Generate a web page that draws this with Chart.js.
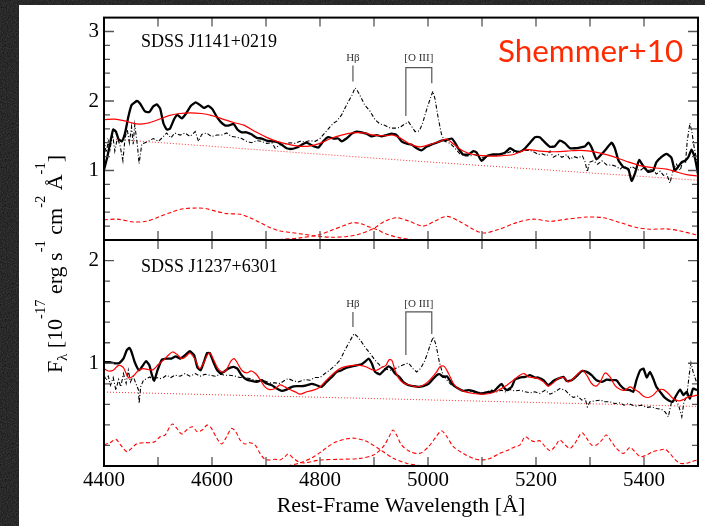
<!DOCTYPE html>
<html>
<head>
<meta charset="utf-8">
<script src="https://cdn.jsdelivr.net/npm/chart.js@4.4.1/dist/chart.umd.min.js"></script>
<style>
  html, body { margin: 0; padding: 0; }
  body {
    width: 705px; height: 526px; position: relative; overflow: hidden;
    background-color: #111;
    background-image: url("data:image/svg+xml;utf8,<svg xmlns='http://www.w3.org/2000/svg' width='160' height='160'><filter id='g'><feTurbulence type='fractalNoise' baseFrequency='0.8' numOctaves='2' stitchTiles='stitch'/><feColorMatrix type='saturate' values='0'/></filter><rect width='160' height='160' filter='url(%23g)' opacity='0.28'/></svg>");
  }
  #sheet { position: absolute; left: 19px; top: 5px; right: 0; bottom: 0; background: #fff; }
  canvas { position: absolute; left: 0; top: 0; }
</style>
</head>
<body>
<div id="sheet"></div>
<canvas id="topPanel" width="705" height="526"></canvas>
<canvas id="bottomPanel" width="705" height="526"></canvas>
<script>
// rest-frame wavelength ticks (labelled) and flux ticks per panel
const waveTicks = [4400, 4600, 4800, 5000, 5200, 5400];
const topFluxTicks = [1, 2, 3];
const bottomFluxTicks = [1, 2];

// SDSS J1141+0219: [wavelength, flux]
const j1141Obs = [[4400,1.01],[4406,1.19],[4412,1.42],[4417,1.59],[4422,1.56],[4427,1.45],[4433,1.42],[4439,1.54],[4445,1.77],[4451,1.94],[4461,2.00],[4467,1.96],[4476,1.85],[4484,1.84],[4491,1.92],[4498,1.95],[4504,1.89],[4510,1.68],[4516,1.59],[4522,1.60],[4530,1.74],[4536,1.80],[4544,1.75],[4552,1.82],[4561,1.93],[4570,1.98],[4578,1.94],[4585,1.90],[4593,1.93],[4601,1.88],[4609,1.77],[4616,1.70],[4624,1.65],[4632,1.65],[4640,1.67],[4647,1.59],[4655,1.55],[4664,1.55],[4673,1.52],[4683,1.47],[4692,1.46],[4701,1.43],[4711,1.42],[4720,1.41],[4729,1.37],[4738,1.32],[4748,1.31],[4757,1.33],[4766,1.37],[4775,1.40],[4788,1.35],[4797,1.33],[4806,1.42],[4815,1.48],[4825,1.46],[4834,1.46],[4840,1.42],[4849,1.46],[4859,1.53],[4868,1.56],[4877,1.55],[4886,1.53],[4896,1.49],[4905,1.51],[4914,1.49],[4923,1.51],[4933,1.53],[4942,1.51],[4951,1.42],[4961,1.385],[4970,1.37],[4979,1.32],[4988,1.29],[4997,1.34],[5007,1.375],[5016,1.40],[5025,1.43],[5035,1.44],[5044,1.46],[5050,1.40],[5056,1.32],[5065,1.23],[5075,1.23],[5084,1.28],[5090,1.26],[5099,1.14],[5109,1.21],[5118,1.23],[5127,1.23],[5136,1.24],[5143,1.26],[5152,1.32],[5161,1.28],[5170,1.27],[5180,1.32],[5189,1.40],[5198,1.48],[5207,1.48],[5217,1.40],[5226,1.34],[5235,1.35],[5244,1.43],[5254,1.39],[5263,1.32],[5272,1.32],[5281,1.33],[5291,1.35],[5297,1.40],[5303,1.33],[5312,1.16],[5322,1.24],[5331,1.32],[5340,1.40],[5346,1.32],[5353,1.14],[5362,1.05],[5371,1.02],[5377,0.85],[5383,0.95],[5391,1.15],[5399,1.06],[5408,0.98],[5417,1.00],[5423,1.12],[5433,1.20],[5442,1.24],[5451,1.18],[5457,1.00],[5463,1.05],[5470,1.12],[5476,1.14],[5482,1.19],[5488,1.30],[5494,1.19],[5500,0.95]];
const j1141Raw = [[4400,1.45],[4404,1.26],[4408,1.42],[4411,1.30],[4416,1.52],[4420,1.28],[4425,1.47],[4430,1.35],[4435,1.14],[4439,1.47],[4443,1.59],[4447,1.40],[4451,1.63],[4454,1.38],[4457,1.66],[4462,1.35],[4465,1.10],[4470,1.38],[4476,1.40],[4482,1.42],[4491,1.46],[4501,1.42],[4510,1.49],[4516,1.54],[4524,1.47],[4531,1.54],[4541,1.51],[4550,1.54],[4559,1.49],[4569,1.56],[4575,1.42],[4581,1.52],[4590,1.54],[4599,1.49],[4609,1.51],[4618,1.51],[4627,1.54],[4636,1.49],[4646,1.48],[4655,1.46],[4664,1.42],[4673,1.40],[4683,1.43],[4692,1.42],[4701,1.39],[4711,1.40],[4717,1.32],[4726,1.37],[4735,1.38],[4744,1.40],[4754,1.39],[4763,1.42],[4772,1.41],[4781,1.43],[4791,1.42],[4800,1.46],[4809,1.54],[4819,1.63],[4825,1.68],[4831,1.71],[4840,1.80],[4849,1.94],[4859,2.08],[4865,2.19],[4869,2.15],[4874,2.08],[4883,1.94],[4893,1.85],[4902,1.73],[4911,1.67],[4920,1.65],[4930,1.61],[4939,1.61],[4948,1.62],[4957,1.67],[4964,1.70],[4970,1.63],[4976,1.56],[4984,1.57],[4990,1.68],[4998,1.89],[5004,2.03],[5009,2.14],[5013,2.03],[5019,1.75],[5025,1.52],[5031,1.42],[5041,1.39],[5050,1.32],[5059,1.24],[5069,1.21],[5078,1.21],[5087,1.23],[5096,1.19],[5106,1.19],[5115,1.23],[5124,1.21],[5133,1.23],[5143,1.24],[5152,1.27],[5161,1.26],[5170,1.27],[5180,1.29],[5189,1.29],[5198,1.26],[5204,1.23],[5211,1.24],[5220,1.21],[5226,1.28],[5232,1.19],[5241,1.23],[5248,1.19],[5257,1.23],[5263,1.16],[5270,1.20],[5278,1.18],[5286,1.21],[5291,1.12],[5295,0.98],[5299,1.12],[5306,1.14],[5314,1.09],[5322,1.14],[5331,1.08],[5340,1.08],[5348,1.06],[5356,1.02],[5363,1.07],[5371,1.00],[5377,1.06],[5385,1.02],[5393,1.00],[5400,1.04],[5408,1.00],[5416,1.02],[5423,0.95],[5430,0.99],[5436,0.93],[5442,0.95],[5448,0.82],[5454,1.00],[5460,1.09],[5467,1.00],[5472,1.14],[5477,1.12],[5480,1.42],[5485,1.68],[5489,1.54],[5493,1.33],[5498,1.14]];
const j1141Model = [[4400,1.73],[4420,1.74],[4440,1.71],[4460,1.67],[4480,1.68],[4500,1.73],[4520,1.79],[4540,1.82],[4560,1.83],[4580,1.82],[4600,1.79],[4620,1.74],[4640,1.69],[4660,1.65],[4680,1.56],[4700,1.48],[4720,1.42],[4740,1.38],[4760,1.35],[4780,1.35],[4800,1.39],[4820,1.46],[4840,1.51],[4860,1.54],[4880,1.54],[4900,1.51],[4920,1.50],[4935,1.51],[4950,1.46],[4967,1.38],[4985,1.34],[5004,1.375],[5022,1.42],[5035,1.45],[5047,1.38],[5065,1.28],[5084,1.23],[5109,1.21],[5133,1.21],[5158,1.23],[5183,1.30],[5207,1.28],[5232,1.27],[5257,1.28],[5281,1.29],[5300,1.28],[5319,1.25],[5343,1.20],[5368,1.13],[5393,1.07],[5417,1.04],[5442,1.02],[5460,0.98],[5479,0.94],[5500,0.92]];
const j1141PowerLaw = [[4400,1.46],[4950,1.15],[5500,0.86]];
const j1141FeII = [[4400,0.29],[4425,0.30],[4454,0.26],[4479,0.27],[4504,0.34],[4528,0.41],[4547,0.45],[4572,0.46],[4590,0.45],[4609,0.41],[4627,0.38],[4652,0.37],[4670,0.32],[4689,0.25],[4707,0.18],[4726,0.13],[4744,0.11],[4763,0.09],[4790,0.06],[4820,0.04],[4850,0.05],[4875,0.09],[4900,0.17],[4920,0.27],[4942,0.32],[4965,0.27],[4991,0.20],[5012,0.27],[5035,0.34],[5060,0.26],[5080,0.17],[5102,0.10],[5130,0.15],[5164,0.25],[5195,0.30],[5226,0.27],[5257,0.30],[5294,0.33],[5325,0.32],[5356,0.25],[5386,0.18],[5411,0.155],[5442,0.16],[5467,0.13],[5494,0.08],[5500,0.07]];
const j1141Hbeta = [[4700,0.0],[4730,0.01],[4763,0.03],[4800,0.08],[4825,0.15],[4845,0.21],[4862,0.25],[4878,0.23],[4890,0.19],[4905,0.15],[4925,0.08],[4948,0.03],[4975,0.005],[5000,0.0]];

// SDSS J1237+6301: [wavelength, flux]
const j1237Obs = [[4400,1.01],[4411,1.01],[4420,1.00],[4428,1.00],[4436,1.045],[4442,1.126],[4447,1.15],[4451,1.11],[4457,1.01],[4465,0.93],[4472,0.98],[4478,1.02],[4484,0.98],[4488,0.90],[4493,0.83],[4499,0.93],[4507,1.035],[4516,1.045],[4525,1.045],[4533,1.068],[4541,1.045],[4550,1.078],[4559,1.117],[4567,1.078],[4573,0.958],[4579,0.932],[4585,1.013],[4591,1.10],[4596,1.10],[4602,1.02],[4609,0.938],[4616,0.90],[4622,0.916],[4630,0.948],[4640,0.964],[4647,0.948],[4655,0.884],[4664,0.841],[4673,0.828],[4683,0.819],[4692,0.835],[4701,0.803],[4711,0.786],[4720,0.754],[4729,0.731],[4738,0.744],[4748,0.77],[4757,0.777],[4766,0.777],[4775,0.786],[4785,0.80],[4794,0.786],[4803,0.77],[4812,0.819],[4822,0.867],[4831,0.916],[4840,0.932],[4849,0.958],[4859,0.97],[4868,0.98],[4877,0.99],[4883,1.013],[4890,1.045],[4896,0.997],[4902,0.916],[4911,0.893],[4920,0.938],[4927,0.97],[4933,0.948],[4939,0.90],[4948,0.861],[4954,0.819],[4964,0.786],[4973,0.777],[4982,0.77],[4991,0.777],[5001,0.80],[5010,0.851],[5016,0.884],[5022,0.893],[5028,0.867],[5035,0.873],[5041,0.828],[5047,0.786],[5056,0.754],[5065,0.731],[5075,0.738],[5084,0.728],[5093,0.712],[5102,0.706],[5112,0.722],[5121,0.722],[5130,0.77],[5136,0.80],[5142,0.754],[5146,0.738],[5155,0.77],[5161,0.841],[5170,0.861],[5180,0.867],[5189,0.884],[5198,0.861],[5204,0.861],[5214,0.835],[5223,0.786],[5232,0.828],[5241,0.851],[5251,0.867],[5257,0.828],[5266,0.835],[5275,0.874],[5285,0.925],[5294,0.916],[5303,0.884],[5312,0.835],[5322,0.819],[5331,0.841],[5340,0.835],[5349,0.835],[5356,0.786],[5365,0.744],[5374,0.738],[5380,0.722],[5386,0.835],[5393,0.932],[5399,0.948],[5405,0.861],[5411,0.916],[5417,0.851],[5423,0.77],[5430,0.722],[5437,0.673],[5445,0.641],[5453,0.625],[5460,0.69],[5467,0.744],[5473,0.69],[5479,0.722],[5485,0.657],[5491,0.754],[5498,0.738]];
const j1237Raw = [[4400,0.884],[4404,0.835],[4408,0.874],[4412,0.786],[4417,0.861],[4422,0.738],[4427,0.841],[4431,0.77],[4436,0.90],[4441,0.803],[4445,0.932],[4449,0.819],[4454,0.874],[4459,0.803],[4464,0.738],[4465,0.61],[4468,0.77],[4473,0.835],[4479,0.851],[4485,0.867],[4491,0.835],[4498,0.861],[4504,0.851],[4510,0.861],[4516,0.884],[4524,0.861],[4531,0.884],[4541,0.874],[4550,0.90],[4559,0.874],[4569,0.90],[4578,0.874],[4587,0.893],[4596,0.884],[4606,0.874],[4615,0.893],[4624,0.884],[4633,0.884],[4643,0.874],[4652,0.861],[4661,0.861],[4670,0.851],[4680,0.835],[4689,0.828],[4698,0.828],[4707,0.809],[4717,0.809],[4726,0.803],[4735,0.835],[4741,0.851],[4751,0.828],[4760,0.819],[4772,0.841],[4781,0.835],[4791,0.861],[4800,0.861],[4809,0.90],[4819,0.938],[4828,0.98],[4837,1.029],[4846,1.126],[4856,1.223],[4863,1.288],[4869,1.262],[4875,1.223],[4883,1.159],[4893,1.094],[4902,1.029],[4911,0.98],[4920,0.948],[4930,0.932],[4939,0.948],[4948,0.97],[4957,0.99],[4964,1.003],[4972,0.948],[4979,0.916],[4986,0.948],[4993,1.013],[4999,1.094],[5005,1.197],[5010,1.256],[5015,1.175],[5021,1.013],[5027,0.90],[5035,0.835],[5044,0.786],[5053,0.764],[5062,0.738],[5072,0.738],[5081,0.722],[5090,0.722],[5099,0.712],[5109,0.722],[5118,0.738],[5127,0.722],[5136,0.738],[5143,0.722],[5152,0.744],[5161,0.731],[5170,0.738],[5180,0.722],[5189,0.712],[5198,0.722],[5207,0.706],[5217,0.738],[5226,0.699],[5235,0.722],[5244,0.754],[5254,0.738],[5263,0.69],[5269,0.667],[5277,0.68],[5285,0.641],[5291,0.657],[5295,0.576],[5300,0.625],[5309,0.634],[5319,0.641],[5328,0.625],[5337,0.625],[5346,0.608],[5356,0.615],[5363,0.592],[5371,0.608],[5379,0.592],[5386,0.583],[5396,0.592],[5405,0.57],[5414,0.576],[5423,0.56],[5433,0.55],[5439,0.527],[5445,0.479],[5451,0.625],[5457,0.657],[5464,0.592],[5470,0.479],[5474,0.625],[5479,0.673],[5484,0.90],[5487,1.003],[5491,0.916],[5498,0.803]];
const j1237Model = [[4400,0.948],[4408,0.925],[4417,0.932],[4427,0.98],[4436,0.958],[4445,0.861],[4454,0.874],[4464,0.932],[4473,0.948],[4482,0.938],[4491,0.938],[4501,0.99],[4510,1.029],[4519,1.078],[4527,1.11],[4535,1.087],[4544,1.045],[4552,1.068],[4559,1.10],[4569,1.035],[4577,0.948],[4584,0.997],[4591,1.078],[4596,1.10],[4602,1.045],[4610,0.958],[4618,0.916],[4626,0.932],[4635,1.02],[4641,1.045],[4647,1.003],[4655,0.932],[4664,0.906],[4673,0.925],[4682,0.893],[4689,0.841],[4698,0.77],[4707,0.744],[4717,0.754],[4726,0.79],[4735,0.77],[4744,0.744],[4754,0.722],[4763,0.699],[4775,0.722],[4788,0.738],[4800,0.77],[4812,0.835],[4825,0.90],[4837,0.948],[4849,0.97],[4862,0.98],[4874,0.98],[4886,0.964],[4896,0.938],[4905,0.932],[4914,0.958],[4922,0.98],[4928,1.035],[4933,1.029],[4939,0.932],[4945,0.861],[4954,0.809],[4967,0.786],[4979,0.77],[4991,0.786],[5004,0.841],[5016,0.916],[5023,0.97],[5030,0.97],[5038,0.90],[5047,0.803],[5056,0.754],[5069,0.722],[5084,0.706],[5099,0.699],[5115,0.706],[5130,0.738],[5146,0.786],[5158,0.835],[5170,0.884],[5178,0.90],[5186,0.867],[5195,0.861],[5204,0.851],[5214,0.819],[5223,0.777],[5232,0.809],[5241,0.851],[5251,0.861],[5260,0.819],[5269,0.851],[5278,0.90],[5286,0.932],[5295,0.874],[5303,0.803],[5311,0.777],[5319,0.819],[5328,0.906],[5337,0.867],[5346,0.786],[5356,0.744],[5365,0.738],[5374,0.77],[5380,0.754],[5390,0.722],[5399,0.68],[5408,0.667],[5417,0.69],[5426,0.738],[5436,0.744],[5445,0.706],[5454,0.657],[5464,0.634],[5473,0.647],[5482,0.673],[5491,0.68],[5499,0.69]];
const j1237PowerLaw = [[4400,0.72],[4950,0.65],[5500,0.58]];
const j1237FeII = [[4400,0.204],[4411,0.227],[4422,0.259],[4431,0.204],[4442,0.14],[4451,0.172],[4460,0.214],[4473,0.227],[4485,0.227],[4494,0.236],[4504,0.285],[4513,0.301],[4522,0.382],[4527,0.408],[4535,0.366],[4544,0.311],[4554,0.356],[4564,0.382],[4573,0.333],[4583,0.356],[4591,0.398],[4599,0.366],[4609,0.269],[4618,0.214],[4627,0.285],[4636,0.366],[4644,0.333],[4652,0.253],[4661,0.214],[4670,0.227],[4680,0.204],[4689,0.123],[4698,0.065],[4707,0.058],[4717,0.065],[4726,0.058],[4735,0.091],[4741,0.117],[4751,0.074],[4760,0.042],[4770,0.03],[4800,0.058],[4837,0.065],[4874,0.074],[4899,0.107],[4917,0.188],[4928,0.285],[4935,0.35],[4942,0.30],[4951,0.204],[4967,0.14],[4985,0.123],[5001,0.188],[5015,0.285],[5025,0.343],[5035,0.285],[5047,0.188],[5065,0.123],[5084,0.074],[5099,0.058],[5115,0.074],[5133,0.123],[5149,0.156],[5161,0.188],[5170,0.204],[5180,0.285],[5189,0.253],[5198,0.236],[5207,0.246],[5217,0.188],[5226,0.149],[5235,0.188],[5244,0.253],[5254,0.204],[5263,0.172],[5272,0.22],[5285,0.324],[5294,0.269],[5303,0.204],[5312,0.204],[5322,0.253],[5330,0.301],[5340,0.236],[5349,0.172],[5362,0.123],[5374,0.18],[5383,0.14],[5393,0.091],[5405,0.107],[5417,0.14],[5430,0.156],[5439,0.162],[5448,0.123],[5457,0.065],[5467,0.026],[5479,0.026],[5488,0.042],[5499,0.058]];
const j1237Hbeta = [[4740,0.0],[4763,0.03],[4785,0.08],[4800,0.13],[4815,0.19],[4830,0.235],[4850,0.265],[4865,0.27],[4886,0.24],[4911,0.16],[4936,0.075],[4961,0.025],[4990,0.0]];

// emission line wavelengths marked above the spectra
const lineWaves = { hb: 4861, oiiiA: 4959, oiiiB: 5007 };

const SERIF = '"Liberation Serif", "Times New Roman", serif';
const RED = '#ff0000';

function toPoints(arr) {
  return arr.map(([x, y]) => ({ x, y }));
}

function spectrumSets(obs, raw, model, powerLaw, fe, hb) {
  const base = { pointRadius: 0, fill: false };
  return [
    { ...base, data: toPoints(model), borderColor: RED, borderWidth: 1.2, tension: 0.3, order: 1 },
    { ...base, data: toPoints(obs), borderColor: '#000', borderWidth: 2.3, tension: 0.15, order: 2 },
    { ...base, data: toPoints(raw), borderColor: '#000', borderWidth: 1.1, borderDash: [4, 2, 1, 2], order: 3 },
    { ...base, data: toPoints(fe), borderColor: RED, borderWidth: 1.1, borderDash: [4, 2.5], tension: 0.3, order: 4 },
    { ...base, data: toPoints(hb), borderColor: RED, borderWidth: 1.1, borderDash: [4, 2.5], tension: 0.3, order: 4 },
    { ...base, data: toPoints(powerLaw), borderColor: 'rgba(255,0,0,0.8)', borderWidth: 1, borderDash: [1, 2], order: 5 }
  ];
}

// frame, inward ticks, object name and line markers
const panelFrame = {
  id: 'panelFrame',
  afterDatasetsDraw(chart, args, opts) {
    const { ctx, chartArea: a, scales: { x, y } } = chart;
    ctx.save();
    ctx.strokeStyle = '#555';
    ctx.lineWidth = 1.3;
    ctx.beginPath();
    for (let w = 4500; w < 5500; w += 100) {
      const px = x.getPixelForValue(w);
      ctx.moveTo(px, a.top); ctx.lineTo(px, a.top + 9);
      ctx.moveTo(px, a.bottom); ctx.lineTo(px, a.bottom - 9);
    }
    for (let k = 1; k < Math.round(y.max * 5); k++) {
      const py = y.getPixelForValue(k / 5);
      const len = k % 5 === 0 ? 10 : 6;
      ctx.moveTo(a.left, py); ctx.lineTo(a.left + len, py);
      ctx.moveTo(a.right, py); ctx.lineTo(a.right - len, py);
    }
    ctx.stroke();

    ctx.strokeStyle = '#000';
    ctx.lineWidth = 2;
    ctx.strokeRect(a.left, a.top, a.width, a.height);

    ctx.fillStyle = '#000';
    ctx.font = '18px ' + SERIF;
    ctx.textAlign = 'left';
    ctx.textBaseline = 'alphabetic';
    ctx.fillText(opts.name, a.left + 37, opts.nameY);

    // Hβ and [O III] markers
    const m = opts.marks;
    const hx = x.getPixelForValue(lineWaves.hb);
    const ox1 = x.getPixelForValue(lineWaves.oiiiA);
    const ox2 = x.getPixelForValue(lineWaves.oiiiB);
    ctx.strokeStyle = '#555';
    ctx.lineWidth = 1.2;
    ctx.beginPath();
    ctx.moveTo(hx, y.getPixelForValue(m.hbTick[0]));
    ctx.lineTo(hx, y.getPixelForValue(m.hbTick[1]));
    ctx.moveTo(ox1, y.getPixelForValue(m.oiiiLeft));
    ctx.lineTo(ox1, y.getPixelForValue(m.bracketTop));
    ctx.lineTo(ox2, y.getPixelForValue(m.bracketTop));
    ctx.lineTo(ox2, y.getPixelForValue(m.oiiiRight));
    ctx.stroke();
    ctx.fillStyle = '#333';
    ctx.font = '11px ' + SERIF;
    ctx.textAlign = 'center';
    ctx.textBaseline = 'middle';
    const ly = y.getPixelForValue(m.labelY);
    ctx.fillText('Hβ', hx, ly);
    ctx.fillText('[O III]', (ox1 + ox2) / 2, ly);
    ctx.restore();
  }
};

// rotated flux label with sub- and superscripts
function drawFluxTitle(ctx, cx, cy) {
  const parts = [['F', 'n'], ['λ', 'sub'], [' [10', 'n'], ['-17', 'sup'], [' erg s', 'n'], ['-1', 'sup'],
    [' cm', 'n'], ['-2', 'sup'], [' Å', 'n'], ['-1', 'sup'], [']', 'n']];
  const fontFor = k => (k === 'n' ? 22 : 14.5) + 'px ' + SERIF;
  ctx.save();
  ctx.translate(cx, cy);
  ctx.rotate(-Math.PI / 2);
  ctx.fillStyle = '#000';
  ctx.textAlign = 'left';
  ctx.textBaseline = 'alphabetic';
  let total = 0;
  parts.forEach(([t, k]) => { ctx.font = fontFor(k); total += ctx.measureText(t).width; });
  let pos = -total / 2;
  parts.forEach(([t, k]) => {
    ctx.font = fontFor(k);
    const dy = k === 'sup' ? -17 : (k === 'sub' ? 5 : 0);
    ctx.fillText(t, pos, dy);
    pos += ctx.measureText(t).width;
  });
  ctx.restore();
}

const topDecor = {
  id: 'topDecor',
  afterDraw(chart) {
    const ctx = chart.ctx;
    drawFluxTitle(ctx, 62, 264);
    ctx.save();
    ctx.fillStyle = '#ff2a00';
    ctx.textAlign = 'left';
    ctx.textBaseline = 'alphabetic';
    ctx.font = '32px "Comic Sans MS", Lato, sans-serif';
    const size = 32 * 185 / ctx.measureText('Shemmer+10').width;
    ctx.font = size.toFixed(1) + 'px "Comic Sans MS", Lato, sans-serif';
    ctx.fillText('Shemmer+10', 498, 62);
    ctx.restore();
  }
};

const bottomDecor = {
  id: 'bottomDecor',
  afterDraw(chart) {
    const { ctx, chartArea: a } = chart;
    ctx.save();
    ctx.fillStyle = '#000';
    ctx.font = '22px ' + SERIF;
    ctx.textAlign = 'center';
    ctx.textBaseline = 'alphabetic';
    ctx.fillText('Rest-Frame Wavelength [Å]', (a.left + a.right) / 2, 512);
    ctx.restore();
  }
};

function panelConfig(datasets, yMax, fluxTicks, showWave, padding, frameOpts, decor) {
  return {
    type: 'line',
    data: { datasets },
    options: {
      responsive: false,
      animation: false,
      layout: { padding },
      plugins: {
        legend: { display: false },
        tooltip: { enabled: false },
        panelFrame: frameOpts
      },
      scales: {
        x: {
          type: 'linear', min: 4400, max: 5500, display: showWave,
          grid: { display: false, drawTicks: false },
          border: { display: false },
          ticks: {
            font: { family: SERIF, size: 21 }, color: '#000', padding: 2, maxRotation: 0, autoSkip: false,
            callback: v => String(v)
          },
          afterBuildTicks: s => { s.ticks = waveTicks.map(v => ({ value: v })); },
          afterFit: s => { s.height = showWave ? 60 : 0; }
        },
        y: {
          type: 'linear', min: 0, max: yMax,
          grid: { display: false, drawTicks: false },
          border: { display: false },
          ticks: { font: { family: SERIF, size: 21 }, color: '#000', padding: 5, callback: v => String(v) },
          afterBuildTicks: s => { s.ticks = fluxTicks.map(v => ({ value: v })); },
          afterFit: s => { s.width = 104; }
        }
      }
    },
    plugins: [panelFrame, decor]
  };
}

new Chart(document.getElementById('topPanel'), panelConfig(
  spectrumSets(j1141Obs, j1141Raw, j1141Model, j1141PowerLaw, j1141FeII, j1141Hbeta),
  3.2, topFluxTicks, false,
  { left: 0, right: 7, top: 14, bottom: 286 },
  { name: 'SDSS J1141+0219', nameY: 47,
    marks: { labelY: 2.61, hbTick: [2.51, 2.28], bracketTop: 2.48, oiiiLeft: 1.785, oiiiRight: 2.256 } },
  topDecor
));

new Chart(document.getElementById('bottomPanel'), panelConfig(
  spectrumSets(j1237Obs, j1237Raw, j1237Model, j1237PowerLaw, j1237FeII, j1237Hbeta),
  2.2, bottomFluxTicks, true,
  { left: 0, right: 7, top: 240, bottom: 0 },
  { name: 'SDSS J1237+6301', nameY: 272,
    marks: { labelY: 1.577, hbTick: [1.50, 1.353], bracketTop: 1.50, oiiiLeft: 1.08, oiiiRight: 1.285 } },
  bottomDecor
));
</script>
</body>
</html>
